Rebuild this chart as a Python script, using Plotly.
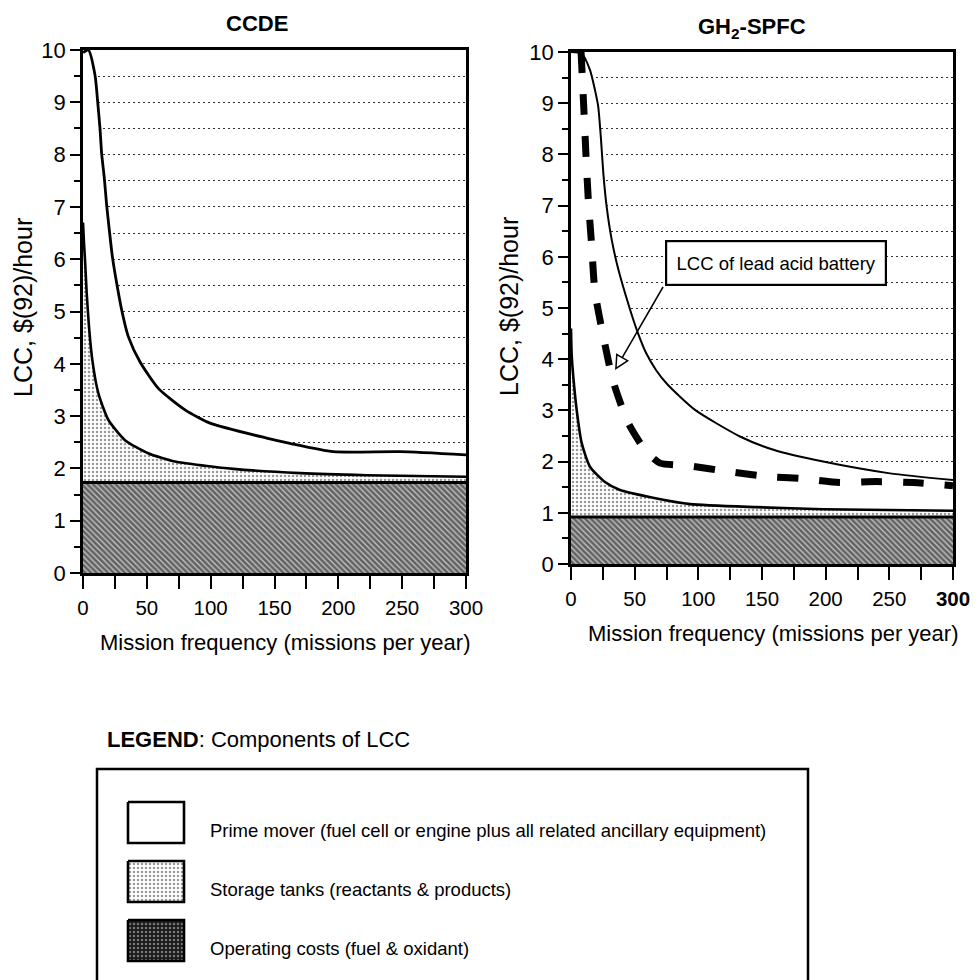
import plotly.graph_objects as go

# ---------------- data ----------------
X_RANGE = [0, 300]
X_TICKS = [0, 50, 100, 150, 200, 250, 300]
Y_TICKS = list(range(0, 11))

# CCDE panel
ccde_ops = 1.73
ccde_storage_x = [0, 0.8, 1.6, 2.9, 4.7, 7.3, 12, 19.8, 32.9, 51, 72, 95.6, 117.7, 170, 222, 300]
ccde_storage_y = [6.7, 6.3, 5.98, 5.35, 4.71, 4.07, 3.44, 2.93, 2.54, 2.29, 2.13, 2.05, 1.99, 1.91, 1.87, 1.84]
ccde_prime_x = [0, 4.2, 9.4, 11.5, 13.3, 14.6, 16.7, 18.5, 20.6, 23, 26.4, 30.3, 35.5, 44.6, 59, 79.9,
                100, 143.9, 162, 196, 248, 300]
ccde_prime_y = [9.95, 10.0, 9.52, 9.01, 8.5, 8.02, 7.55, 7.04, 6.56, 6.05, 5.54, 5.03, 4.52, 4.04, 3.53, 3.12,
                2.86, 2.58, 2.48, 2.32, 2.32, 2.26]

# GH2-SPFC panel
spfc_ops = 0.92
spfc_storage_x = [0, 0.5, 1.8, 4.5, 8.4, 14.9, 26.7, 38, 67.3, 93.5, 145.8, 198, 300]
spfc_storage_y = [4.6, 4.1, 3.66, 3.0, 2.36, 1.9, 1.6, 1.45, 1.28, 1.17, 1.11, 1.07, 1.04]
spfc_prime_x = [0, 8.4, 14.9, 18.8, 21.4, 23.6, 25.4, 28, 32, 37.2, 46, 52, 59, 67, 76, 97.4, 132.7, 159,
                198, 250.5, 300]
spfc_prime_y = [10.0, 9.97, 9.65, 9.26, 8.93, 8.28, 7.63, 6.98, 6.33, 5.75, 5.0, 4.55, 4.12, 3.78, 3.5,
                3.01, 2.49, 2.23, 2.0, 1.77, 1.64]
battery_x = [7.9, 10.2, 11.8, 13.6, 16.2, 18.8, 25.4, 33.2, 45, 59, 70, 92, 125, 154, 180, 211, 240, 269, 300]
battery_y = [10.0, 8.83, 7.96, 7.11, 6.23, 5.32, 4.44, 3.56, 2.75, 2.2, 1.97, 1.92, 1.80, 1.71, 1.67, 1.59,
             1.61, 1.59, 1.53]

battery_label = "LCC of lead acid battery"
battery_label_pos = (160.6, 5.87)
battery_arrow_tail = (72.5, 5.42)
battery_arrow_tip = (34.6, 3.79)

panel_titles = ["CCDE", "GH<sub>2</sub>-SPFC"]
x_title = "Mission frequency (missions per year)"
y_title = "LCC, $(92)/hour"

legend_title = "<b>LEGEND</b>: Components of LCC"
legend_labels = [
    "Prime mover (fuel cell or engine plus all related ancillary equipment)",
    "Storage tanks (reactants & products)",
    "Operating costs (fuel & oxidant)",
]

# ---------------- style ----------------
W, H = 978, 980
FONT = "Liberation Sans, Arial, Helvetica, sans-serif"


def fx(p):
    return p / W


def fy(p):
    return 1 - p / H


STORAGE_PAT = dict(shape=".", fgcolor="#333333", bgcolor="white", size=4, solidity=0.32)
OPS_PAT = dict(shape="\\", fgcolor="#000000", bgcolor="#c4c4c4", size=4, solidity=0.66)
OPS_LEG_PAT = dict(shape=".", fgcolor="#d8d8d8", bgcolor="#1a1a1a", size=4, solidity=0.3)
GRID_DASH = "2px,3px"

fig = go.Figure()


def add_panel(xa, ya, ops, sx, sy, px_, py_, lw_prime):
    fig.add_trace(go.Scatter(x=X_RANGE, y=[ops, ops], xaxis=xa, yaxis=ya, mode="lines",
                             line=dict(color="black", width=3), fill="tozeroy",
                             fillcolor="#c4c4c4", fillpattern=OPS_PAT, hoverinfo="skip",
                             showlegend=False))
    fig.add_trace(go.Scatter(x=sx, y=sy, xaxis=xa, yaxis=ya, mode="lines",
                             line=dict(color="black", width=2.6, shape="spline", smoothing=0.6),
                             fill="tonexty", fillcolor="white", fillpattern=STORAGE_PAT,
                             hoverinfo="skip", showlegend=False))
    fig.add_trace(go.Scatter(x=px_, y=py_, xaxis=xa, yaxis=ya, mode="lines",
                             line=dict(color="black", width=lw_prime, shape="spline", smoothing=0.6),
                             fill="tonexty", fillcolor="white", hoverinfo="skip", showlegend=False))


add_panel("x", "y", ccde_ops, ccde_storage_x, ccde_storage_y, ccde_prime_x, ccde_prime_y, 2.8)
add_panel("x2", "y2", spfc_ops, spfc_storage_x, spfc_storage_y, spfc_prime_x, spfc_prime_y, 2.0)

fig.add_trace(go.Scatter(x=battery_x, y=battery_y, xaxis="x2", yaxis="y2", mode="lines",
                         line=dict(color="black", width=7, dash="dash", shape="spline", smoothing=0.6),
                         hoverinfo="skip", showlegend=False))

# legend swatches drawn on a hidden pixel-scaled axis pair
SW_X0, SW_X1, SW_TOP, SW_H, SW_STEP = 128, 184, 802, 41, 59
leg_styles = [dict(fillcolor="white"),
              dict(fillcolor="white", fillpattern=STORAGE_PAT),
              dict(fillcolor="#1a1a1a", fillpattern=OPS_LEG_PAT)]
for i, st in enumerate(leg_styles):
    t = SW_TOP + i * SW_STEP
    fig.add_trace(go.Scatter(x=[SW_X0, SW_X1, SW_X1, SW_X0, SW_X0], y=[t, t, t + SW_H, t + SW_H, t],
                             xaxis="x3", yaxis="y3", mode="lines", fill="toself",
                             line=dict(color="black", width=2.6), hoverinfo="skip",
                             showlegend=False, **st))


def xaxis(domain, ticktext, anchor):
    return dict(domain=domain, range=X_RANGE, anchor=anchor, automargin=False, showline=True,
                mirror=True, linecolor="black", linewidth=2.5, ticks="outside", ticklen=13,
                tickwidth=1.5, tickcolor="black", tickvals=X_TICKS, ticktext=ticktext,
                showgrid=False, zeroline=False,
                tickfont=dict(family=FONT, size=20.5, color="black"), ticklabelstandoff=2,
                minor=dict(dtick=25, tick0=0, ticks="outside", ticklen=13, tickwidth=1.5,
                           tickcolor="black", showgrid=False),
                fixedrange=True)


def yaxis(domain, anchor):
    return dict(domain=domain, range=[0, 10], anchor=anchor, automargin=False, showline=True,
                mirror=True, linecolor="black", linewidth=2.5, ticks="outside", ticklen=10,
                tickwidth=1.5, tickcolor="black", tickvals=Y_TICKS, showgrid=True,
                gridcolor="#333333", gridwidth=1.2, griddash=GRID_DASH, zeroline=False,
                tickfont=dict(family=FONT, size=22, color="black"),
                minor=dict(dtick=0.5, tick0=0, ticks="outside", ticklen=6, tickwidth=1.5,
                           tickcolor="black", showgrid=True, gridcolor="#333333", gridwidth=1.2,
                           griddash=GRID_DASH),
                fixedrange=True)


tt_left = [str(v) for v in X_TICKS]
tt_right = [str(v) for v in X_TICKS[:-1]] + ["<b>%d</b>" % X_TICKS[-1]]


def note(text, x, y, size, **kw):
    d = dict(text=text, x=fx(x), y=fy(y), xref="paper", yref="paper", showarrow=False,
             xanchor="center", yanchor="middle", font=dict(family=FONT, size=size, color="black"))
    d.update(kw)
    return d


annotations = [
    note("<b>%s</b>" % panel_titles[0], 257, 24, 22),
    note("<b>%s</b>" % panel_titles[1], 752, 28, 22),
    note(x_title, 285, 642, 22),
    note(x_title, 773, 633, 22),
    note(y_title, 23, 308, 25, textangle=-90),
    note(y_title, 509, 306, 25, textangle=-90),
    # battery label box
    dict(text=battery_label, x=battery_label_pos[0], y=battery_label_pos[1], xref="x2", yref="y2",
         xanchor="center", yanchor="middle", showarrow=False, bgcolor="white", bordercolor="black",
         borderwidth=2.2, borderpad=3, width=212, height=36,
         font=dict(family=FONT, size=18.5, color="black")),
    # arrow (black outline head)
    dict(text="", x=battery_arrow_tip[0], y=battery_arrow_tip[1], xref="x2", yref="y2",
         ax=battery_arrow_tail[0], ay=battery_arrow_tail[1], axref="x2", ayref="y2",
         showarrow=True, arrowhead=2, arrowsize=2, arrowwidth=1.5, arrowcolor="black",
         font=dict(size=1), borderpad=0),
    # hollow interior of arrow head
    dict(text="", x=battery_arrow_tip[0], y=battery_arrow_tip[1], xref="x2", yref="y2",
         ax=6.5, ay=-11.2, showarrow=True, arrowhead=2, arrowsize=1.36, arrowwidth=1.5,
         arrowcolor="white", standoff=3.35, font=dict(size=1), borderpad=0),
    # legend
    note(legend_title, 105, 739, 22, xanchor="left"),
]
for i, lab in enumerate(legend_labels):
    annotations.append(note(lab, 208, 830 + i * SW_STEP, 18.5, xanchor="left"))

shapes = [dict(type="rect", xref="paper", yref="paper", x0=fx(97), x1=fx(808), y0=-0.05, y1=fy(769),
               line=dict(color="black", width=2.5), fillcolor="rgba(0,0,0,0)", layer="below")]

fig.update_layout(
    width=W, height=H, margin=dict(l=0, r=0, t=0, b=0, pad=0, autoexpand=False),
    paper_bgcolor="white", plot_bgcolor="white", showlegend=False,
    xaxis=xaxis([fx(83), fx(466)], tt_left, "y"),
    yaxis=yaxis([fy(573), fy(50)], "x"),
    xaxis2=xaxis([fx(571), fx(953)], tt_right, "y2"),
    yaxis2=yaxis([fy(564), fy(52)], "x2"),
    xaxis3=dict(domain=[0, 1], range=[0, W], visible=False, anchor="y3", fixedrange=True,
                automargin=False),
    yaxis3=dict(domain=[0, 0.3], range=[H, H - 0.3 * H], visible=False, anchor="x3",
                fixedrange=True, automargin=False),
    annotations=annotations, shapes=shapes,
)

fig.write_html("out.html")
